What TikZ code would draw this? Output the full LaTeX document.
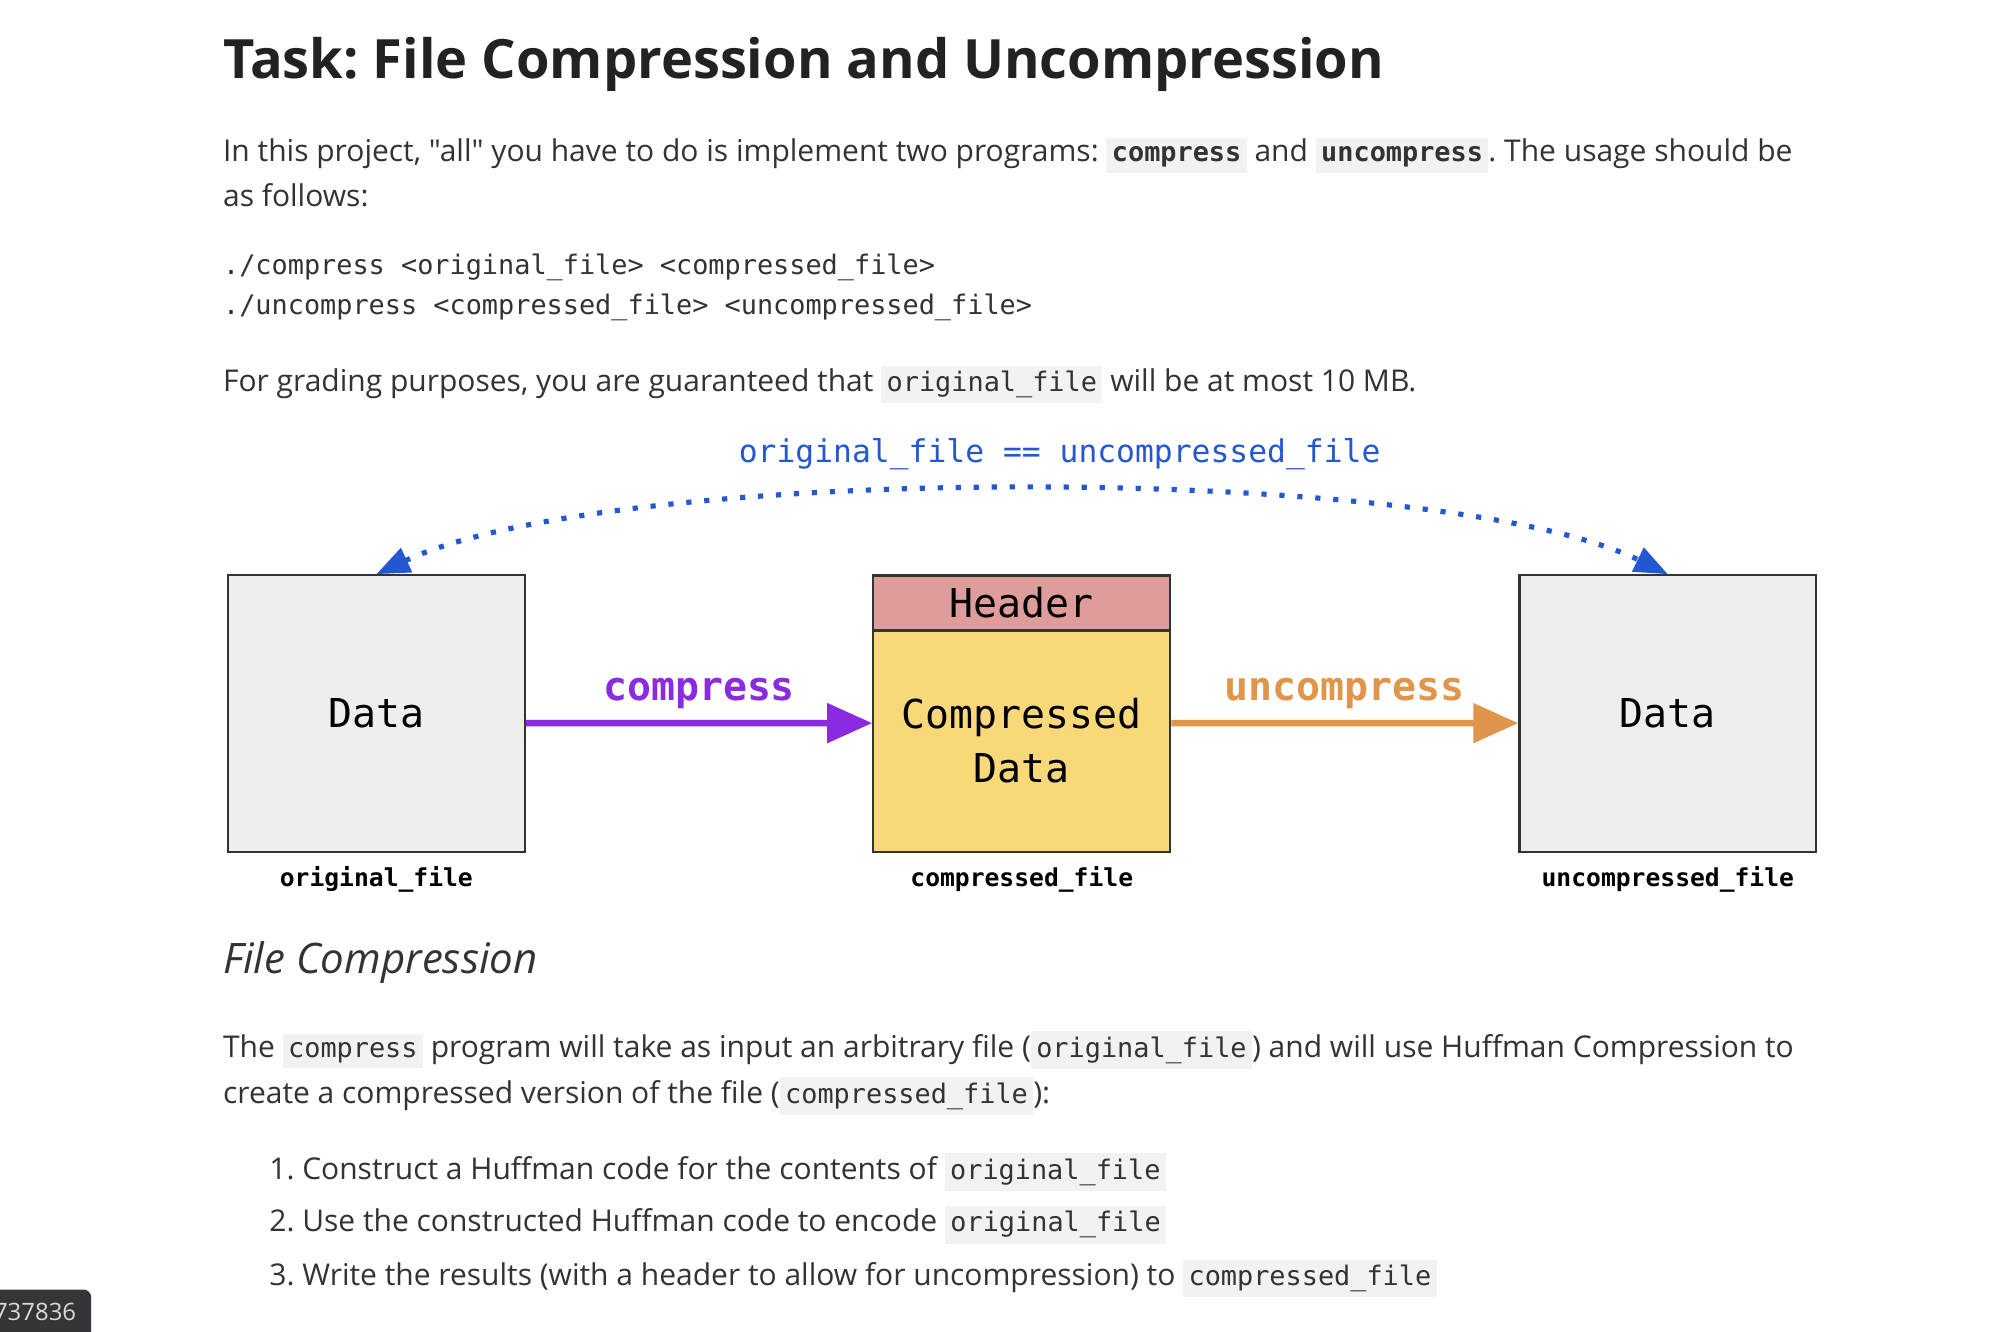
\documentclass[tikz,border=0pt]{standalone}
\usepackage{fontspec}
\setmainfont{Open Sans}[Ligatures=TeXOff]
\newfontfamily\codefont{DejaVu Sans Mono}
\usetikzlibrary{arrows.meta,positioning}
\frenchspacing

\definecolor{textgray}{HTML}{333333}
\definecolor{titlegray}{HTML}{222222}
\definecolor{codebg}{HTML}{F2F2F2}
\definecolor{boxline}{HTML}{333333}
\definecolor{databg}{HTML}{EEEEEE}
\definecolor{headerbg}{HTML}{DE9C9A}
\definecolor{compbg}{HTML}{F9D87A}
\definecolor{comppurple}{HTML}{8A2BE2}
\definecolor{uncomporange}{HTML}{E0954A}
\definecolor{eqblue}{HTML}{2458D0}
\definecolor{badgebg}{HTML}{333538}

\newcommand{\bodysize}{\fontsize{6.64}{7.5}\selectfont}
\newcommand{\code}[1]{{\setlength{\fboxsep}{1.2pt}\colorbox{codebg}{\fontsize{5.95}{7}\selectfont\codefont\rule[-1pt]{0pt}{5pt}#1}}}

\tikzset{
  bodytext/.style={anchor=base west, inner sep=0, text=textgray, font=\bodysize},
  codeline/.style={anchor=base west, inner sep=0, text=textgray, font=\fontsize{5.95}{7}\selectfont\codefont},
  filebox/.style={draw=boxline, line width=0.5pt, fill=databg, minimum width=2.31cm,
    minimum height=2.15cm, inner sep=0, font=\fontsize{8.82}{11.95}\selectfont\codefont},
  filelabel/.style={inner sep=0, font=\fontsize{5.46}{6.5}\selectfont\codefont\bfseries},
  arrowlabel/.style={inner sep=0, font=\fontsize{8.82}{10}\selectfont\codefont\bfseries},
  bigarrow/.style={line width=0.05cm, -{Triangle[length=0.35cm,width=0.3cm]}},
}

\begin{document}
\begin{tikzpicture}[x=0.01cm,y=-0.01cm]
\useasboundingbox (0,0) rectangle (1568,1037);
\fill[white] (0,0) rectangle (1568,1037);

% text above the diagram
\node[anchor=base west, inner sep=0, text=titlegray, font=\fontsize{12}{14}\selectfont\bfseries] (title) at (173,61) {Task: File Compression and Uncompression};
\node[bodytext] (intro1) at (173,126) {In this project, "all" you have to do is implement two programs: \code{\bfseries compress} and \code{\bfseries uncompress}. The usage should be};
\node[bodytext] (intro2) at (173,161) {as follows:};
\node[codeline] (usage1) at (173,214) {./compress <original\_file> <compressed\_file>};
\node[codeline] (usage2) at (173,245) {./uncompress <compressed\_file> <uncompressed\_file>};
\node[bodytext] (grading) at (173,305) {For grading purposes, you are guaranteed that \code{original\_file} will be at most 10 MB.};

% the diagram
\node[filebox] (orig) at (293,555.5) {Data};
\node[filebox, fill=headerbg, minimum height=0.43cm] (header) at (795.5,469.5) {Header};
\node[filebox, fill=compbg, minimum height=1.72cm, align=center] (body) at (795.5,577) {Compressed\\Data};
\node[filebox] (uncomp) at (1298.5,555.5) {Data};

\node[filelabel] at ([yshift=-0.21cm]orig.south) {original\_file};
\node[filelabel] at ([yshift=-0.21cm]body.south) {compressed\_file};
\node[filelabel] at ([yshift=-0.21cm]uncomp.south) {uncompressed\_file};

\draw[bigarrow, comppurple] ([yshift=-0.075cm]orig.east) -- ([yshift=0.14cm]body.west)
  node[arrowlabel, midway, yshift=0.23cm, text=comppurple] {compress};
\draw[bigarrow, uncomporange] ([yshift=0.14cm]body.east) -- ([yshift=-0.075cm]uncomp.west)
  node[arrowlabel, midway, yshift=0.23cm, text=uncomporange] {uncompress};

\draw[eqblue, line width=0.04cm, dash pattern=on 0.04cm off 0.1cm,
  {Triangle[length=0.26cm,width=0.2cm]}-{Triangle[length=0.26cm,width=0.2cm]}]
  (orig.north) .. controls (480,360) and (1120,360) .. (uncomp.north);
\node[inner sep=0, text=eqblue, font=\fontsize{6.94}{8}\selectfont\codefont] (eq) at (825,354) {original\_file == uncompressed\_file};

% text below the diagram
\node[anchor=base west, inner sep=0, text=textgray, font=\fontsize{9.3}{11}\selectfont\itshape] (section) at (173,758) {File Compression};
\node[bodytext] (desc1) at (173,823) {The \code{compress} program will take as input an arbitrary file (\code{original\_file}) and will use Huffman Compression to};
\node[bodytext] (desc2) at (173,859) {create a compressed version of the file (\code{compressed\_file}):};
\node[bodytext] (step1) at (209,918) {1. Construct a Huffman code for the contents of \code{original\_file}};
\node[bodytext] (step2) at (209,959) {2. Use the constructed Huffman code to encode \code{original\_file}};
\node[bodytext] (step3) at (209,1001) {3. Write the results (with a header to allow for uncompression) to \code{compressed\_file}};

% badge
\fill[badgebg, rounded corners=0.06cm] (-20,1004) rectangle (71,1060);
\node[anchor=base east, inner sep=0, text=white!85!black, font=\fontsize{5.3}{7}\selectfont] (badge) at (60,1028) {737836};
\end{tikzpicture}
\end{document}
